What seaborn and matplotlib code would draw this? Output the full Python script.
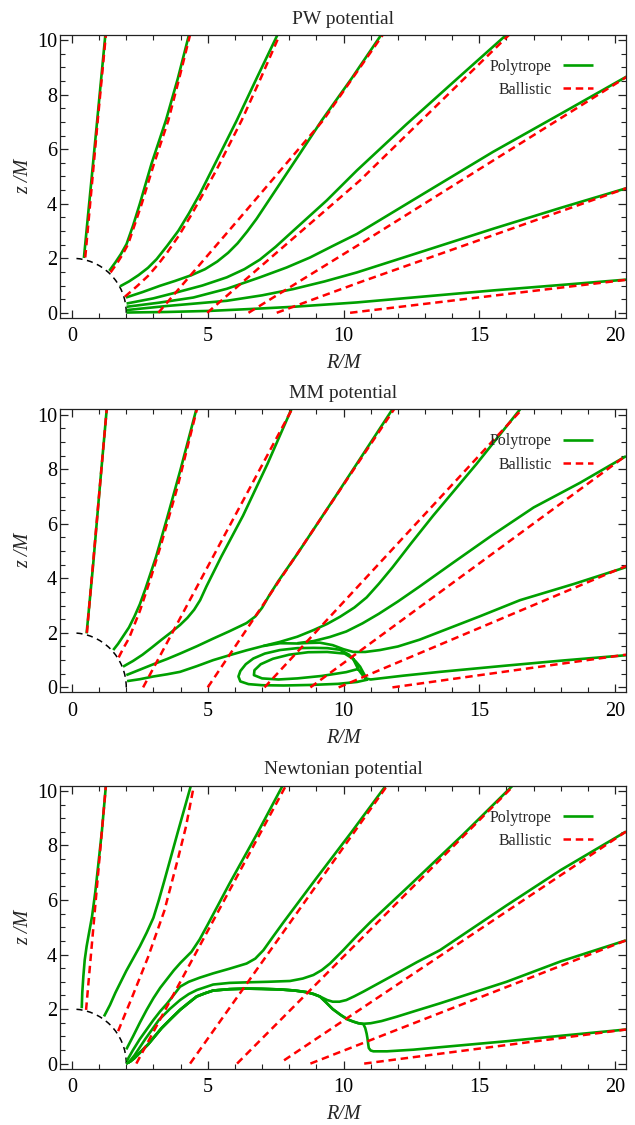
import matplotlib
matplotlib.use("Agg")
import matplotlib.pyplot as plt
import seaborn as sns
from matplotlib.patches import Arc
from matplotlib.ticker import MultipleLocator

# ---------------- data ----------------
titles = ["PW potential", "MM potential", "Newtonian potential"]
legend_labels = ["Polytrope", "Ballistic"]

# PW potential: polytrope streamlines (R, z)
pw_poly_R = [
    [0.44, 0.93, 1.23],
    [1.375, 1.6, 1.8, 2.01, 2.25, 2.5, 2.93, 3.46, 3.9, 4.31],
    [1.77, 2.1, 2.45, 2.8, 3.12, 3.5, 3.92, 4.31, 4.71, 5.33, 6.07, 6.8, 7.57],
    [1.99, 2.6, 3.24, 3.8, 4.4, 4.9, 5.35, 5.75, 6.1, 6.45, 6.8, 7.5, 8.3, 9.2,
     10.3, 11.39],
    [2.01, 3.0, 3.86, 4.8, 5.7, 6.35, 6.92, 7.5, 8.15, 9.38, 10.49, 12.3, 14.2,
     16.0],
    [2.01, 3.2, 4.47, 5.7, 6.92, 7.9, 8.77, 9.6, 10.49, 13.0, 15.5, 18.0, 20.45],
    [2.01, 3.5, 5.7, 7.0, 8.15, 9.3, 10.49, 13.0, 15.5, 18.0, 20.45],
    [2.01, 3.5, 5.08, 6.6, 8.15, 10.49, 13.0, 15.5, 18.0, 20.45],
]
pw_poly_z = [
    [2.01, 7.06, 10.2],
    [1.54, 1.85, 2.15, 2.52, 3.2, 4.0, 5.47, 7.06, 8.6, 10.2],
    [0.97, 1.15, 1.38, 1.65, 1.97, 2.45, 3.01, 3.65, 4.36, 5.59, 7.06, 8.6, 10.2],
    [0.56, 0.76, 0.99, 1.17, 1.38, 1.6, 1.88, 2.2, 2.55, 2.98, 3.45, 4.5, 5.7,
     7.06, 8.6, 10.2],
    [0.34, 0.53, 0.75, 1.0, 1.3, 1.6, 1.95, 2.42, 3.01, 4.12, 5.22, 6.9, 8.6,
     10.2],
    [0.22, 0.37, 0.56, 0.88, 1.3, 1.66, 2.03, 2.45, 2.89, 4.4, 5.9, 7.3, 8.68],
    [0.1, 0.25, 0.44, 0.64, 0.87, 1.15, 1.48, 2.28, 3.08, 3.85, 4.58],
    [0.01, 0.03, 0.07, 0.14, 0.22, 0.38, 0.6, 0.82, 1.02, 1.22],
]
# PW potential: ballistic trajectories
pw_ball_R = [
    [0.49, 0.95, 1.25],
    [1.42, 1.65, 1.87, 2.07, 2.3, 2.57, 3.0, 3.55, 3.95, 4.35],
    [1.95, 2.4, 2.8, 3.15, 3.5, 3.95, 4.4, 5.3, 6.25, 6.95, 7.65],
    [3.18, 6.2, 9.25, 11.45],
    [4.98, 10.6, 16.1],
    [6.5, 10.6, 20.5],
    [7.54, 10.6, 20.5],
    [10.24, 20.5],
]
pw_ball_z = [
    [2.03, 7.06, 10.2],
    [1.48, 1.8, 2.15, 2.52, 3.2, 4.0, 5.4, 7.06, 8.6, 10.2],
    [0.59, 0.98, 1.35, 1.75, 2.2, 2.85, 3.6, 5.2, 7.06, 8.6, 10.2],
    [0.0, 3.5, 7.06, 10.2],
    [0.0, 4.85, 10.2],
    [0.0, 2.52, 8.7],
    [0.0, 1.12, 4.6],
    [0.0, 1.22],
]

# MM potential
mm_poly_R = [
    [0.54, 0.78, 1.03, 1.28],
    [1.52, 1.7, 1.9, 2.1, 2.3, 2.5, 2.7, 3.1, 3.5, 4.0, 4.58],
    [1.88, 2.25, 2.6, 2.95, 3.3, 3.65, 3.98, 4.25, 4.5, 4.72, 4.95, 5.5, 6.3,
     7.2, 8.08],
    [2.0, 2.5, 3.0, 3.5, 3.98, 4.6, 5.2, 5.8, 6.43, 6.75, 7.0, 7.25, 7.6, 8.3,
     9.0, 9.7, 10.75, 11.8],
    [2.03, 2.5, 3.0, 3.5, 3.98, 4.6, 5.2, 5.8, 6.43, 7.05, 7.66, 8.3, 8.89, 9.4,
     9.87, 10.4, 10.85, 11.3, 11.8, 12.5, 13.3, 14.1, 14.9, 15.7, 16.5],
    [8.3, 8.9, 9.5, 10.1, 10.7, 11.3, 12.0, 12.8, 14.0, 15.5, 17.0, 18.7, 20.4],
    [7.05, 7.66, 8.28, 8.7, 9.13, 9.6, 10.0, 10.36, 10.8, 11.34, 12.0, 12.8,
     13.55, 15.0, 16.5, 18.5, 20.4],
    [10.55, 10.1, 9.2, 8.3, 7.6, 7.0, 6.7, 6.72, 6.95, 7.4, 8.0, 8.7, 9.4,
     10.04, 10.35, 10.45, 10.55, 10.7, 10.86, 10.5, 9.8, 8.8, 7.8, 7.0, 6.5,
     6.2, 6.13, 6.2, 6.4, 6.68, 7.1, 7.66, 8.3, 8.89, 9.4, 9.87, 10.2, 10.45,
     10.61, 10.75, 10.85, 11.0, 12.2, 13.55, 16.0, 18.0, 20.4],
]
mm_poly_z = [
    [1.98, 4.5, 7.4, 10.2],
    [1.37, 1.6, 1.9, 2.2, 2.6, 3.05, 3.6, 4.8, 6.2, 8.0, 10.2],
    [0.76, 0.97, 1.2, 1.47, 1.75, 2.02, 2.29, 2.55, 2.85, 3.2, 3.7, 4.8, 6.3,
     8.2, 10.2],
    [0.45, 0.65, 0.85, 1.04, 1.24, 1.51, 1.79, 2.06, 2.36, 2.6, 2.92, 3.35,
     3.9, 4.9, 5.95, 7.0, 8.6, 10.2],
    [0.23, 0.3, 0.4, 0.48, 0.57, 0.78, 1.0, 1.18, 1.36, 1.52, 1.67, 1.86, 2.1,
     2.33, 2.59, 2.93, 3.3, 3.8, 4.4, 5.3, 6.3, 7.25, 8.2, 9.2, 10.2],
    [1.62, 1.7, 1.85, 2.05, 2.35, 2.7, 3.15, 3.7, 4.55, 5.6, 6.6, 7.5, 8.48],
    [1.52, 1.62, 1.61, 1.63, 1.64, 1.55, 1.4, 1.30, 1.3, 1.37, 1.5, 1.75, 2.04,
     2.6, 3.2, 3.8, 4.41],
    [0.68, 0.56, 0.42, 0.33, 0.29, 0.33, 0.45, 0.63, 0.85, 1.05, 1.2, 1.29,
     1.3, 1.24, 1.05, 0.85, 0.65, 0.45, 0.28, 0.2, 0.13, 0.09, 0.07, 0.08,
     0.12, 0.22, 0.4, 0.6, 0.85, 1.06, 1.24, 1.37, 1.44, 1.45, 1.44, 1.38, 1.2,
     0.95, 0.76, 0.5, 0.32, 0.29, 0.43, 0.57, 0.8, 0.98, 1.18],
]
mm_ball_R = [
    [0.55, 1.28],
    [1.72, 1.9, 2.1, 2.3, 2.5, 2.9, 3.3, 3.9, 4.6],
    [2.62, 8.1],
    [5.0, 11.86],
    [7.09, 16.57],
    [8.78, 20.4],
    [9.82, 20.4],
    [11.8, 20.4],
]
mm_ball_z = [
    [2.0, 10.2],
    [1.1, 1.45, 1.8, 2.3, 2.8, 4.0, 5.3, 7.4, 10.2],
    [0.0, 10.2],
    [0.0, 10.2],
    [0.0, 10.2],
    [0.0, 8.5],
    [0.0, 4.45],
    [0.0, 1.2],
]

# Newtonian potential
nw_poly_R = [
    [0.36, 0.38, 0.42, 0.47, 0.54, 0.63, 0.74, 0.86, 0.97, 1.1, 1.25],
    [1.18, 1.4, 1.6, 1.8, 2.0, 2.25, 2.5, 2.75, 3.0, 3.2, 3.4, 3.65, 3.9, 4.38],
    [2.0, 2.25, 2.5, 2.75, 3.0, 3.25, 3.5, 3.75, 4.0, 4.2, 4.4, 4.7, 5.0, 5.4,
     5.8, 6.3, 6.8, 7.76],
    [2.02, 2.25, 2.5, 2.75, 3.0, 3.25, 3.5, 3.75, 3.98, 4.3, 4.7, 5.2, 5.8,
     6.43, 6.75, 7.05, 7.4, 7.8, 8.4, 9.0, 9.65, 10.3, 11.56],
    [2.07, 2.3, 2.5, 2.7, 2.95, 3.2, 3.6, 3.98, 4.3, 4.6, 5.2, 5.8, 6.43, 7.2,
     8.03, 8.5, 8.89, 9.2, 9.5, 9.99, 10.5, 11.0, 12.5, 14.4, 16.23],
    [2.0, 2.15, 2.3, 2.55, 2.8, 3.05, 3.3, 3.65, 3.98, 4.3, 4.59, 4.9, 5.2, 5.8,
     6.43, 7.0, 7.66, 8.2, 8.64, 8.9, 9.13, 9.4, 9.6, 9.85, 10.1, 10.4, 10.73,
     11.3, 11.96, 12.7, 13.55, 16.0, 18.0, 20.4],
    [2.0, 2.15, 2.3, 2.55, 2.8, 3.05, 3.3, 3.65, 3.98, 4.3, 4.59, 4.9, 5.2, 5.8,
     6.43, 7.0, 7.66, 8.2, 8.64, 8.9, 9.13, 9.35, 9.6, 9.9, 10.15, 10.36, 10.55,
     10.73, 11.0, 11.4, 11.96, 12.7, 13.55, 16.0, 18.0, 20.4],
    [2.0, 2.15, 2.3, 2.55, 2.8, 3.05, 3.3, 3.65, 3.98, 4.3, 4.59, 4.9, 5.2, 5.8,
     6.43, 7.0, 7.66, 8.2, 8.64, 8.9, 9.13, 9.35, 9.6, 9.9, 10.15, 10.36, 10.55,
     10.73, 10.8, 10.85, 10.88, 10.91, 10.93, 11.0, 11.1, 11.6, 12.57, 13.55,
     16.0, 18.0, 20.4],
]
nw_poly_z = [
    [2.03, 2.6, 3.2, 3.8, 4.3, 4.8, 5.4, 6.3, 7.3, 8.5, 10.2],
    [1.73, 2.15, 2.6, 3.0, 3.4, 3.85, 4.3, 4.8, 5.35, 6.0, 6.7, 7.6, 8.5, 10.2],
    [0.52, 1.0, 1.5, 1.97, 2.4, 2.78, 3.1, 3.42, 3.7, 3.9, 4.1, 4.55, 5.1, 5.85,
     6.6, 7.5, 8.4, 10.2],
    [0.1, 0.5, 0.9, 1.25, 1.6, 1.92, 2.2, 2.52, 2.82, 3.0, 3.15, 3.31, 3.48,
     3.67, 3.85, 4.16, 4.65, 5.2, 6.0, 6.8, 7.65, 8.5, 10.2],
    [0.02, 0.3, 0.6, 0.9, 1.25, 1.6, 2.0, 2.33, 2.55, 2.7, 2.9, 2.96, 2.98,
     3.0, 3.03, 3.12, 3.25, 3.43, 3.67, 4.16, 4.7, 5.2, 6.6, 8.4, 10.2],
    [0.0, 0.08, 0.2, 0.45, 0.7, 1.0, 1.3, 1.65, 1.97, 2.23, 2.46, 2.58, 2.68,
     2.73, 2.75, 2.74, 2.72, 2.68, 2.62, 2.55, 2.46, 2.33, 2.27, 2.27, 2.33,
     2.47, 2.64, 2.95, 3.31, 3.72, 4.16, 5.8, 7.1, 8.51],
    [0.0, 0.08, 0.2, 0.45, 0.7, 1.0, 1.3, 1.65, 1.97, 2.23, 2.46, 2.58, 2.68,
     2.73, 2.75, 2.74, 2.72, 2.68, 2.62, 2.55, 2.46, 2.25, 2.0, 1.78, 1.62,
     1.54, 1.48, 1.46, 1.48, 1.56, 1.72, 1.95, 2.21, 3.0, 3.75, 4.52],
    [0.0, 0.08, 0.2, 0.45, 0.7, 1.0, 1.3, 1.65, 1.97, 2.23, 2.46, 2.58, 2.68,
     2.73, 2.75, 2.74, 2.72, 2.68, 2.62, 2.55, 2.46, 2.25, 2.0, 1.78, 1.62,
     1.54, 1.48, 1.45, 1.3, 1.1, 0.93, 0.7, 0.57, 0.48, 0.45, 0.45, 0.51, 0.6,
     0.82, 1.02, 1.25],
]
nw_ball_R = [
    [0.52, 1.25],
    [1.7, 1.95, 2.2, 2.5, 2.8, 3.1, 3.4, 3.9, 4.2, 4.49],
    [2.37, 7.88],
    [4.35, 11.61],
    [6.08, 16.27],
    [7.81, 20.4],
    [8.78, 20.4],
    [10.76, 20.4],
]
nw_ball_z = [
    [1.97, 10.2],
    [1.19, 1.8, 2.4, 3.15, 3.9, 4.75, 5.6, 7.5, 8.7, 10.2],
    [0.0, 10.2],
    [0.0, 10.2],
    [0.0, 10.2],
    [0.12, 8.51],
    [0.0, 4.52],
    [0.0, 1.25],
]

horizon_radius = 2.0
x_ticks = [0, 5, 10, 15, 20]
y_ticks = [0, 2, 4, 6, 8, 10]

panels = [
    (pw_poly_R, pw_poly_z, pw_ball_R, pw_ball_z),
    (mm_poly_R, mm_poly_z, mm_ball_R, mm_ball_z),
    (nw_poly_R, nw_poly_z, nw_ball_R, nw_ball_z),
]

# ---------------- style ----------------
sns.set_theme(style="ticks")
plt.rcParams["font.family"] = ["Liberation Serif", "DejaVu Serif"]
plt.rcParams["axes.edgecolor"] = "#222222"
plt.rcParams["axes.linewidth"] = 0.9

GREEN = "#00a000"
RED = "#ff0000"

fig = plt.figure(figsize=(6.35, 11.25), dpi=100)
W = 635.0
H = 1125.0
tops = [34.7, 409.3, 785.5]
ax_h = 283.0

for i, (pR, pz, bR, bz) in enumerate(panels):
    top = tops[i]
    ax = fig.add_axes([60 / W, 1 - (top + ax_h) / H, 566 / W, ax_h / H])
    for k, (R, z) in enumerate(zip(pR, pz)):
        sns.lineplot(x=R, y=z, sort=False, estimator=None, ax=ax, color=GREEN,
                     linewidth=1.9, label=legend_labels[0] if k == 0 else None,
                     solid_capstyle="butt", solid_joinstyle="round")
    for k, (R, z) in enumerate(zip(bR, bz)):
        sns.lineplot(x=R, y=z, sort=False, estimator=None, ax=ax, color=RED,
                     linewidth=1.8, linestyle=(0, (3.0, 1.9)),
                     label=legend_labels[1] if k == 0 else None)
    ax.add_patch(Arc((0, 0), 2 * horizon_radius, 2 * horizon_radius, theta1=0,
                     theta2=90, color="black", linewidth=1.1,
                     linestyle=(0, (4, 3))))
    ax.set_xlim(-0.44, 20.4)
    ax.set_ylim(-0.18, 10.2)
    ax.set_xticks(x_ticks)
    ax.set_yticks(y_ticks)
    ax.xaxis.set_minor_locator(MultipleLocator(1))
    ax.yaxis.set_minor_locator(MultipleLocator(0.5))
    ax.tick_params(which="both", direction="in", top=True, right=True,
                   color="#222222", labelsize=14.5, labelcolor="black")
    ax.tick_params(which="major", length=6, width=0.9)
    ax.tick_params(which="minor", length=3.5, width=0.8)
    ax.tick_params(axis="x", pad=7)
    ax.tick_params(axis="y", pad=2)
    ax.set_xlabel("R/M", fontsize=14.5, fontstyle="italic", labelpad=5.5)
    ax.set_ylabel("z /M", fontsize=14.5, fontstyle="italic", labelpad=3)
    ax.set_title(titles[i], fontsize=14, pad=8)
    leg = ax.legend(loc="upper right", bbox_to_anchor=(0.942, 0.915),
                    frameon=False, markerfirst=False, fontsize=11.5,
                    handlelength=1.9, handletextpad=0.7, labelspacing=0.45,
                    borderaxespad=0, borderpad=0)

fig.savefig("out.png", dpi=100)
